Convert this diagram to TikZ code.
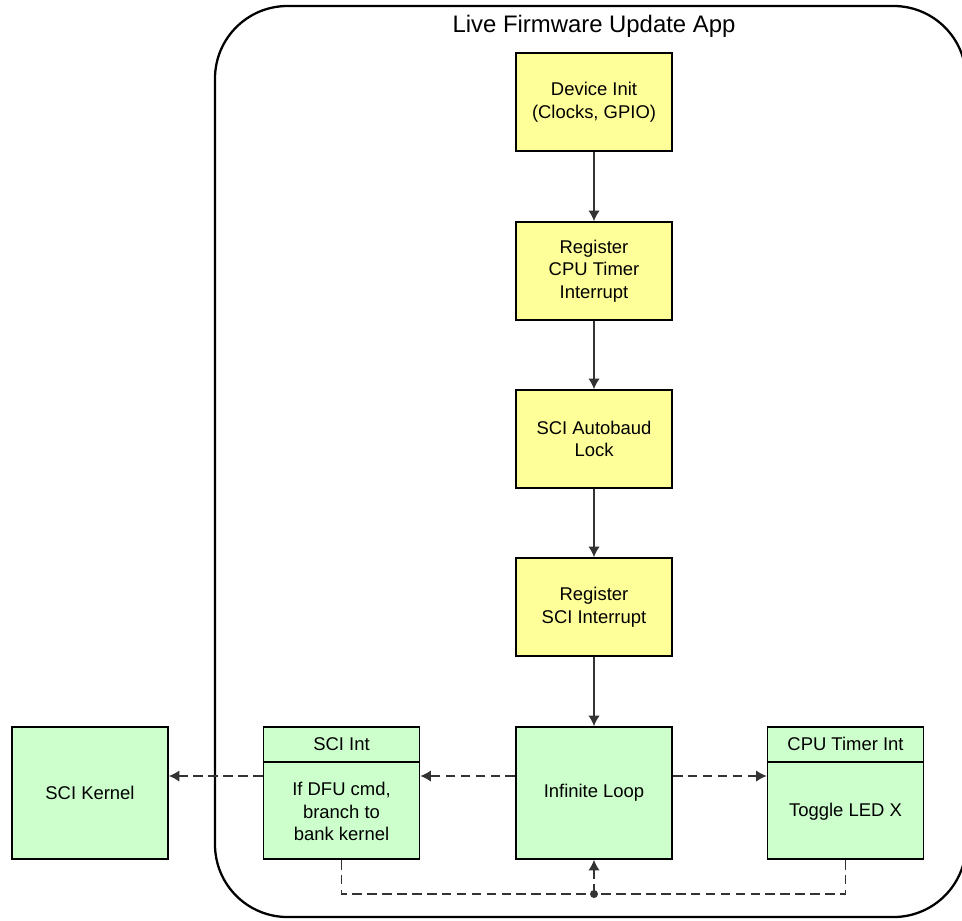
\documentclass[tikz,border=0pt]{standalone}
\usepackage{fontspec}
\setmainfont{Liberation Sans}
\usepackage{tikz}
\usetikzlibrary{arrows,arrows.meta,positioning,calc}
\definecolor{inityellow}{RGB}{255,255,153}
\definecolor{intgreen}{RGB}{204,255,204}
\definecolor{linkgray}{RGB}{51,51,51}

\begin{document}
\begin{tikzpicture}[x=0.02cm, y=-0.02cm, >={Latex[length=6pt,width=6.5pt]},
    yellowbox/.style={draw, line width=1pt, fill=inityellow, minimum width=3.12cm,
        minimum height=1.96cm, align=center, font=\fontsize{10.5}{12.8}\selectfont},
    greenbox/.style={draw, line width=1pt, fill=intgreen, minimum width=3.12cm,
        minimum height=2.64cm, align=center, font=\fontsize{10.5}{12.8}\selectfont},
    boxtext/.style={align=center, font=\fontsize{10.5}{12.8}\selectfont},
    flow/.style={->, linkgray, line width=0.8pt},
    dashflow/.style={->, linkgray, line width=0.8pt, dash pattern=on 5.5pt off 3pt},
    dashlink/.style={linkgray, line width=0.8pt, dash pattern=on 5.5pt off 3pt}]
    \useasboundingbox (0,0) rectangle (962,920);

    % App frame
    \draw[line width=1.3pt, rounded corners=1.45cm] (215,6) rectangle (966,917);
    \node[font=\fontsize{13.6}{16}\selectfont] (apptitle) at (594,26) {Live Firmware Update App};

    % Init sequence
    \node[yellowbox] (init) at (594,102) {Device Init\\(Clocks, GPIO)};
    \node[yellowbox] (regtimer) at (594,271) {Register\\CPU Timer\\Interrupt};
    \node[yellowbox] (autobaud) at (594,439) {SCI Autobaud\\Lock};
    \node[yellowbox] (regsci) at (594,607) {Register\\SCI Interrupt};
    \node[greenbox] (loop) at (594,793) {Infinite Loop};

    \draw[flow] (init) -- (regtimer);
    \draw[flow] (regtimer) -- (autobaud);
    \draw[flow] (autobaud) -- (regsci);
    \draw[flow] (regsci) -- (loop);

    % Interrupts
    \node[greenbox] (sciint) at (341.5,793) {};
    \draw[line width=0.8pt] ($(sciint.north west)+(0,36)$) -- ($(sciint.north east)+(0,36)$);
    \node[boxtext] (sciinthead) at ($(sciint.north)+(0,18)$) {SCI Int};
    \node[boxtext] (sciintbody) at ($(sciint.south)+(0,-48)$) {If DFU cmd,\\branch to\\bank kernel};

    \node[greenbox] (cputimer) at (845.5,793) {};
    \draw[line width=0.8pt] ($(cputimer.north west)+(0,36)$) -- ($(cputimer.north east)+(0,36)$);
    \node[boxtext] (cputimerhead) at ($(cputimer.north)+(0,18)$) {CPU Timer Int};
    \node[boxtext] (cputimerbody) at ($(cputimer.south)+(0,-48)$) {Toggle LED X};

    \node[greenbox] (kernel) at (90,793) {SCI Kernel};

    % Dashed links
    \coordinate (introw) at (0,776);
    \coordinate (join) at (594,894);
    \draw[dashflow] (loop.west |- introw) -- (sciint.east |- introw);
    \draw[dashflow] (loop.east |- introw) -- (cputimer.west |- introw);
    \draw[dashflow] (sciint.west |- introw) -- (kernel.east |- introw);
    \draw[dashlink] (sciint.south) |- (join);
    \draw[dashlink] (cputimer.south) |- (join);
    \draw[dashflow] (join) -- (loop.south);
    \fill[linkgray] (join) circle (4);
\end{tikzpicture}
\end{document}
